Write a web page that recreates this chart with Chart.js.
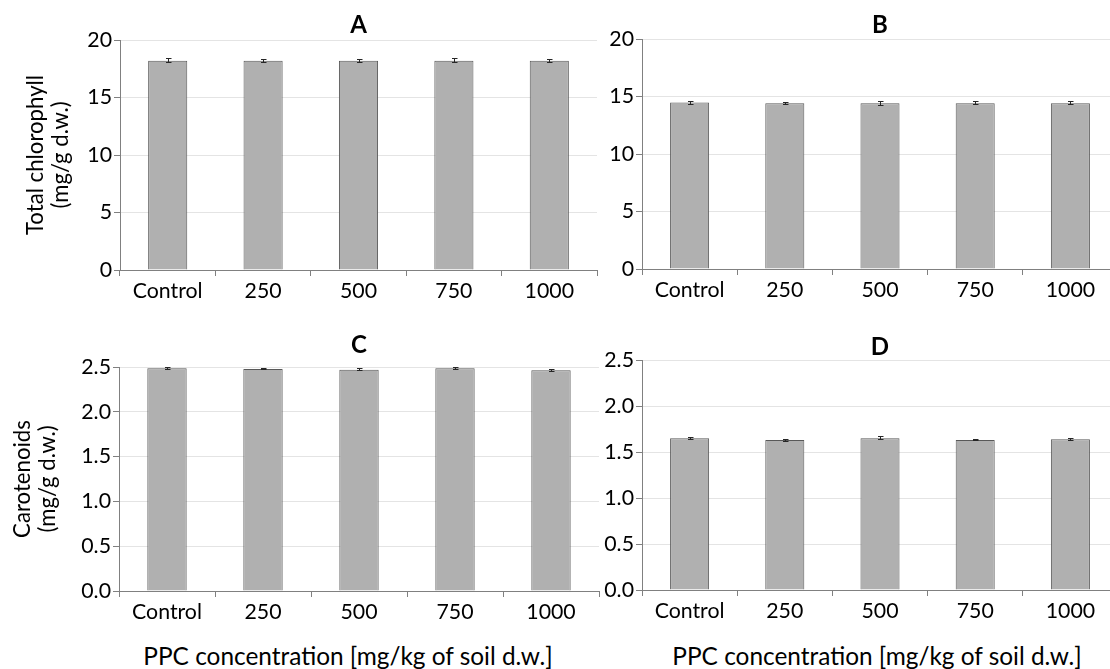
<!DOCTYPE html>
<html>
<head>
<meta charset="utf-8">
<script src="https://cdn.jsdelivr.net/npm/chart.js@4.4.1/dist/chart.umd.min.js"></script>
<style>
  html, body { margin: 0; padding: 0; background: #fff; }
  body { width: 1110px; height: 669px; overflow: hidden; position: relative; }
  .panel { position: absolute; }
  .xlab { position: absolute; width: 600px; text-align: center; color: #000; white-space: nowrap; }
</style>
</head>
<body>
<div class="panel" id="pA" style="left:0px;top:0px;"><canvas id="cA" width="605" height="310"></canvas></div>
<div class="panel" id="pB" style="left:600px;top:0px;"><canvas id="cB" width="520" height="309"></canvas></div>
<div class="panel" id="pC" style="left:0px;top:330px;"><canvas id="cC" width="605" height="300"></canvas></div>
<div class="panel" id="pD" style="left:600px;top:330px;"><canvas id="cD" width="520" height="300"></canvas></div>
<div class="xlab" id="xl1">PPC concentration [mg/kg of soil d.w.]</div>
<div class="xlab" id="xl2">PPC concentration [mg/kg of soil d.w.]</div>
<script>
// ---- data ----
const categories = ['Control', '250', '500', '750', '1000'];
const chlorophyllA = [18.2, 18.2, 18.2, 18.2, 18.2];
const chlorophyllA_err = [0.12, 0.08, 0.08, 0.12, 0.08];
const chlorophyllB = [14.47, 14.41, 14.41, 14.41, 14.41];
const chlorophyllB_err = [0.08, 0.05, 0.12, 0.1, 0.1];
const carotenoidsC = [2.485, 2.478, 2.47, 2.485, 2.463];
const carotenoidsC_err = [0.003, 0.003, 0.008, 0.005, 0.004];
const carotenoidsD = [1.649, 1.63, 1.649, 1.63, 1.638];
const carotenoidsD_err = [0.008, 0.005, 0.01, 0.003, 0.008];
const chlTicks = [0, 5, 10, 15, 20];
const carTicks = [0, 0.5, 1.0, 1.5, 2.0, 2.5];
const panelTitles = ['A', 'B', 'C', 'D'];
const yTitleChl = ['Total chlorophyll', '(mg/g d.w.)'];
const yTitleCar = ['Carotenoids', '(mg/g d.w.)'];

// ---- font sizing ----
const FAMILY = 'Lato, "Open Sans", sans-serif';
const mctx = document.createElement('canvas').getContext('2d');
function fit(text, target, weight) {
  mctx.font = (weight || 'normal') + ' 100px ' + FAMILY;
  return Math.round(100 * target / mctx.measureText(text).width * 10) / 10;
}
const tickSize = fit('Control', 70);
const yTitleSize = fit('Total chlorophyll', 160);
const xTitleSize = fit('PPC concentration [mg/kg of soil d.w.]', 410);
const titleSize = 24;

['xl1', 'xl2'].forEach((id, i) => {
  const el = document.getElementById(id);
  const cx = i === 0 ? 348 : 877;
  el.style.left = (cx - 300) + 'px';
  el.style.top = (656 - 15) + 'px';
  el.style.lineHeight = '30px';
  el.style.fontFamily = FAMILY;
  el.style.fontSize = xTitleSize + 'px';
});

const errorBars = {
  id: 'errorBars',
  afterDatasetsDraw(chart, args, opts) {
    const meta = chart.getDatasetMeta(0);
    const ys = chart.scales.y;
    const data = chart.data.datasets[0].data;
    const errs = opts.errors || [];
    const ctx = chart.ctx;
    ctx.save();
    ctx.strokeStyle = '#262626';
    ctx.lineWidth = 1;
    meta.data.forEach((bar, i) => {
      const e = errs[i] || 0;
      const t = Math.round(ys.getPixelForValue(data[i] + e)) - 0.5;
      const b = Math.round(ys.getPixelForValue(data[i] - e)) + 0.5;
      const x = Math.round(bar.x) + 0.5;
      ctx.beginPath();
      ctx.moveTo(x, t); ctx.lineTo(x, b);
      ctx.moveTo(x - 2.5, t); ctx.lineTo(x + 3, t);
      ctx.moveTo(x - 2.5, b); ctx.lineTo(x + 3, b);
      ctx.stroke();
    });
    ctx.restore();
  }
};

function makePanel(o) {
  return new Chart(document.getElementById(o.canvas), {
    type: 'bar',
    data: {
      labels: categories,
      datasets: [{
        data: o.values,
        backgroundColor: '#b0b0b0',
        borderColor: '#595959',
        borderWidth: 1,
        barPercentage: 0.41,
        categoryPercentage: 1.0
      }]
    },
    plugins: [errorBars],
    options: {
      responsive: false,
      animation: false,
      devicePixelRatio: 1,
      layout: { padding: { left: 0, right: o.padRight, top: 0, bottom: 0 } },
      plugins: {
        legend: { display: false },
        tooltip: { enabled: false },
        errorBars: { errors: o.errors },
        title: {
          display: true,
          text: o.title,
          fullSize: false,
          color: '#000',
          font: { family: FAMILY, size: titleSize, weight: 'bold', lineHeight: 1.0 },
          padding: { top: o.titleTop, bottom: o.titleBottom }
        }
      },
      scales: {
        x: {
          afterFit: (s) => { s.height = o.xHeight; },
          grid: { offset: true, drawOnChartArea: false, drawTicks: true, tickLength: 6, tickColor: '#808080' },
          border: { color: '#808080', width: 1 },
          ticks: { color: '#000', font: { family: FAMILY, size: tickSize }, padding: 2, maxRotation: 0, autoSkip: false }
        },
        y: {
          min: o.ticks[0],
          max: o.ticks[o.ticks.length - 1],
          afterFit: (s) => { s.width = o.yWidth; },
          afterBuildTicks: (s) => { s.ticks = o.ticks.map(v => ({ value: v })); },
          grid: { color: '#e4e4e4', drawTicks: true, tickLength: 6, tickColor: '#808080' },
          border: { color: '#808080', width: 1 },
          ticks: {
            color: '#000',
            font: { family: FAMILY, size: tickSize },
            padding: 2,
            callback: (v) => o.decimals ? Number(v).toFixed(o.decimals) : String(v)
          },
          title: o.yTitle ? {
            display: true,
            text: o.yTitle,
            color: '#000',
            font: { family: FAMILY, size: yTitleSize, lineHeight: 1.15 },
            padding: { top: o.yTitlePad, bottom: 0 }
          } : { display: false }
        }
      }
    }
  });
}

makePanel({ canvas: 'cA', values: chlorophyllA, errors: chlorophyllA_err, ticks: chlTicks, decimals: 0,
  title: panelTitles[0], titleTop: 13, titleBottom: 3, xHeight: 40, yWidth: 120, padRight: 8,
  yTitle: yTitleChl, yTitlePad: 23 });
makePanel({ canvas: 'cB', values: chlorophyllB, errors: chlorophyllB_err, ticks: chlTicks, decimals: 0,
  title: panelTitles[1], titleTop: 13, titleBottom: 2, xHeight: 40, yWidth: 42, padRight: 2 });
makePanel({ canvas: 'cC', values: carotenoidsC, errors: carotenoidsC_err, ticks: carTicks, decimals: 1,
  title: panelTitles[2], titleTop: 3, titleBottom: 10, xHeight: 39, yWidth: 119, padRight: 6,
  yTitle: yTitleCar, yTitlePad: 10 });
makePanel({ canvas: 'cD', values: carotenoidsD, errors: carotenoidsD_err, ticks: carTicks, decimals: 1,
  title: panelTitles[3], titleTop: 5, titleBottom: 1, xHeight: 40, yWidth: 42, padRight: 2 });
</script>
</body>
</html>
